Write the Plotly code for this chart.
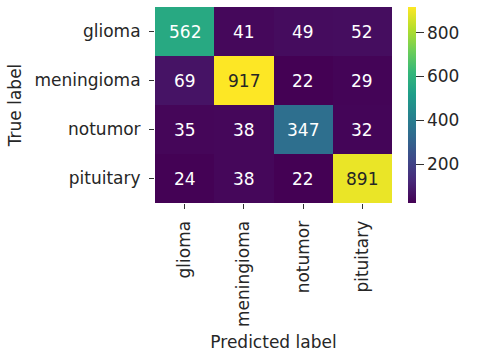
import plotly.graph_objects as go

labels = ["glioma", "meningioma", "notumor", "pituitary"]
counts = [
    [562, 41, 49, 52],
    [69, 917, 22, 29],
    [35, 38, 347, 32],
    [24, 38, 22, 891],
]
cbar_ticks = [200, 400, 600, 800]

zmin = min(min(r) for r in counts)
zmax = max(max(r) for r in counts)

FS = 17
TXT = "#262626"

fig = go.Figure(go.Heatmap(
    z=counts, x=labels, y=labels,
    colorscale="Viridis", zmin=zmin, zmax=zmax,
    xgap=0, ygap=0,
    colorbar=dict(
        thickness=8, len=1, lenmode="fraction", y=0.5, yanchor="middle",
        x=(408 - 155) / 237, xanchor="left", xpad=0, ypad=0,
        outlinewidth=0, tickvals=cbar_ticks, ticks="outside", ticklen=8,
        tickcolor="#333", tickfont=dict(size=FS, color=TXT),
    ),
))

ann = []
for i, row in enumerate(counts):
    for j, v in enumerate(row):
        ann.append(dict(x=labels[j], y=labels[i], text=str(v), showarrow=False,
                        font=dict(size=FS, color=TXT if v > 700 else "white")))
fig.update_layout(
    annotations=ann,
    width=480, height=360,
    margin=dict(l=155, r=88, t=7, b=157),
    paper_bgcolor="white", plot_bgcolor="white",
    font=dict(family="DejaVu Sans", size=FS, color=TXT),
    xaxis=dict(title=dict(text="Predicted label", standoff=10, font=dict(size=FS)),
               tickangle=-90, tickfont=dict(size=FS), ticklabelstandoff=5,
               ticks="outside", ticklen=5, tickcolor="#333", showgrid=False),
    yaxis=dict(title=dict(text="True label", standoff=8, font=dict(size=FS)),
               autorange="reversed", tickfont=dict(size=FS), ticklabelstandoff=5,
               ticks="outside", ticklen=5, tickcolor="#333", showgrid=False),
)
fig.write_html("out.html", config={"displayModeBar": False},
               post_script="document.body.style.margin='0';")
